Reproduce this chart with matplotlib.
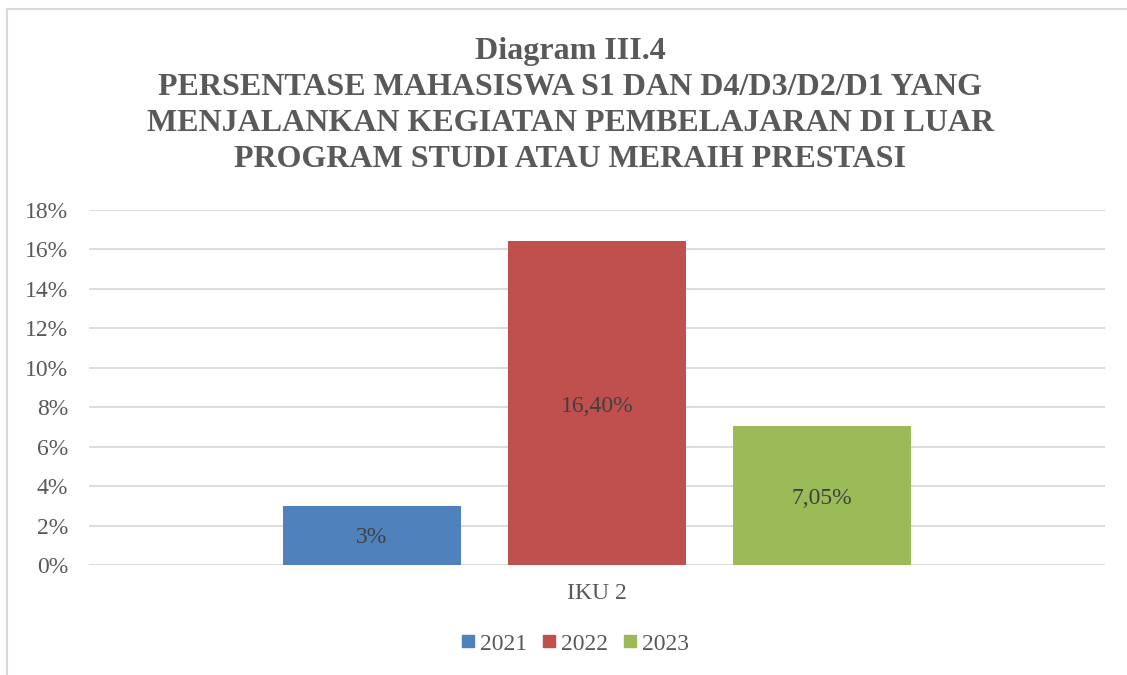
import matplotlib
matplotlib.use("Agg")
import matplotlib.pyplot as plt
from matplotlib.lines import Line2D
from matplotlib.ticker import FuncFormatter

categories = ["IKU 2"]
years = ["2021", "2022", "2023"]
values = [3.0, 16.40, 7.05]
value_labels = ["3%", "16,40%", "7,05%"]
colors = ["#4F81BD", "#C0504D", "#9BBB59"]
title = ("Diagram III.4\nPERSENTASE MAHASISWA S1 DAN D4/D3/D2/D1 YANG\n"
         "MENJALANKAN KEGIATAN PEMBELAJARAN DI LUAR\nPROGRAM STUDI ATAU MERAIH PRESTASI")

plt.rcParams['font.family'] = ['Liberation Serif', 'DejaVu Serif']
txt = "#595959"

fig = plt.figure(figsize=(11.27, 6.75), dpi=100)
ax = fig.add_axes([0.079, 0.163, 0.9015, 0.526])

width = 0.175
offsets = [-0.2215, 0.0, 0.2215]
for i, (y, v, lab, c) in enumerate(zip(years, values, value_labels, colors)):
    ax.bar(0 + offsets[i], v, width=width, color=c, label=y, zorder=3)
    ax.text(0 + offsets[i], v / 2 - 0.15 if v > 5 else 1.4, lab, ha="center", va="center",
            fontsize=17, color="#404040", zorder=4)

ax.set_xlim(-0.5, 0.5)
ax.set_ylim(0, 18)
ax.set_yticks(range(0, 19, 2))
ax.yaxis.set_major_formatter(FuncFormatter(lambda v, p: f"{int(v)}%"))
ax.set_xticks([0])
ax.set_xticklabels(categories)
ax.tick_params(axis="both", length=0, labelsize=17, colors=txt)
ax.tick_params(axis="y", pad=15)
ax.tick_params(axis="x", pad=13)
ax.grid(axis="y", color="#D9D9D9", linewidth=1.3, zorder=0)
for s in ax.spines.values():
    s.set_visible(False)

fig.text(0.506, 0.945, title, ha="center", va="top", fontsize=23, fontweight="bold",
         color=txt, linespacing=1.32)

handles = [Line2D([0], [0], marker="s", linestyle="none", markersize=9,
                  markerfacecolor=c, markeredgecolor=c) for c in colors]
fig.legend(handles, years, loc="center", bbox_to_anchor=(0.508, 0.046), ncol=3,
           frameon=False, fontsize=17, handletextpad=0.0, columnspacing=0.45,
           labelcolor=txt, handlelength=1.0)

# outer chart border (left & top visible)
fig.add_artist(Line2D([0.0065, 0.0065], [0, 0.987], color="#D9D9D9", linewidth=1.5,
                      transform=fig.transFigure))
fig.add_artist(Line2D([0.0065, 1.0], [0.987, 0.987], color="#D9D9D9", linewidth=1.5,
                      transform=fig.transFigure))

fig.savefig("out.png", dpi=100)
